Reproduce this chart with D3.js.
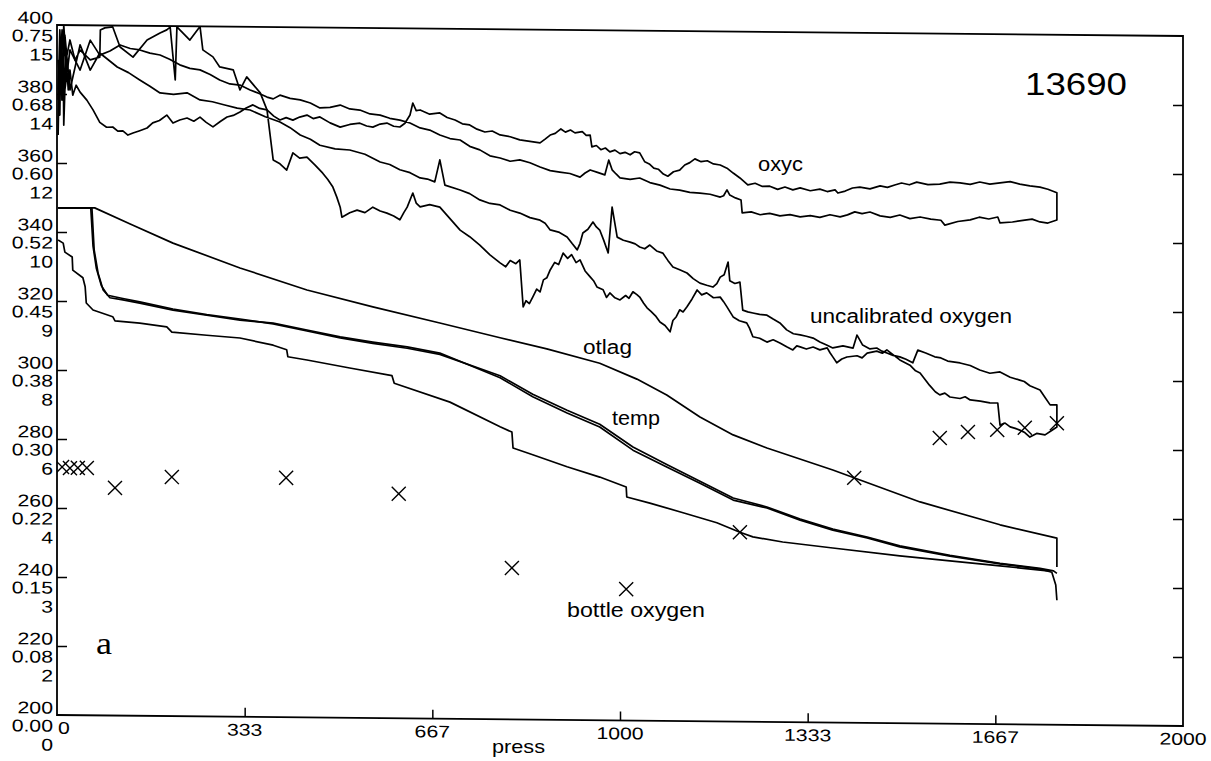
<!DOCTYPE html>
<html><head><meta charset="utf-8">
<script src="https://cdn.jsdelivr.net/npm/d3@7"></script>
<style>
body{margin:0;background:#fff}
svg{display:block}
text{font-family:"Liberation Sans",Arial,Helvetica,sans-serif;fill:#000}
</style>
</head><body>
<script>
// ---------- DATA ----------
const oxTicks = [200,220,240,260,280,300,320,340,360,380,400];
const otlagTickLabels = ["0.00","0.08","0.15","0.22","0.30","0.38","0.45","0.52","0.60","0.68","0.75"];
const tempTickLabels = ["0","2","3","4","6","8","9","10","12","14","15"];
const pressTicks = [0,333.33,666.67,1000,1333.33,1666.67,2000];
const pressTickLabels = ["0","333","667","1000","1333","1667","2000"];
const stationId = "13690";

// calibrated oxygen (oxyc): down cast then up cast  [press, value]
const oxyc = [
[2,368.1],[4,387.0],[5,373.9],[7,395.7],[9,378.3],[11,389.9],[12,371.0],[16,391.3],[20,381.2],[23,387.0],[28,379.7],[34,382.6],[41,380.6],[53,378.3],[64,375.5],
[76,371.9],[88,370.5],[99,370.6],[108,369.4],[117,369.5],[126,368.3],[135,368.9],[147,369.6],[160,370.4],[170,371.9],[182,372.6],[195,374.2],[206,371.9],[218,372.8],[231,373.4],[243,372.5],[254,373.7],[265,372.2],[277,370.9],[290,372.5],[302,373.8],[313,374.3],[325,375.3],[336,376.5],[348,377.4],[360,376.4],[373,376.0],[385,374.2],[396,373.1],[407,373.8],[419,373.1],[431,374.0],[444,374.6],[455,373.6],[467,374.1],[485,372.4],[503,371.2],[520,372.0],[538,372.4],[550,371.6],[561,371.3],[574,372.2],[586,372.5],[598,371.6],[609,371.4],[618,372.5],[627,374.9],[632,378.4],[638,376.2],[645,376.4],[662,375.2],[680,375.6],[693,374.3],[707,373.6],[720,372.5],[733,372.2],[746,371.0],[760,370.2],[773,370.5],[787,369.4],[805,368.9],[822,368.0],[840,367.6],
[858,367.2],[867,368.3],[876,369.5],[885,370.0],[895,371.3],[903,370.4],[912,371.0],[920,370.2],[933,370.6],[940,369.5],[947,369.6],[950,366.2],[958,366.6],[966,365.4],[974,365.9],[982,364.8],[991,365.3],[1000,364.3],[1009,364.7],[1018,364.0],[1026,364.9],[1035,364.6],[1044,362.0],[1052,361.4],[1060,360.2],[1068,359.9],[1077,358.5],[1085,357.9],[1095,359.2],[1106,359.7],[1115,361.2],[1124,361.9],[1133,363.0],[1144,362.2],[1155,362.5],[1166,361.6],[1178,361.3],[1190,360.4],[1201,359.0],[1213,357.6],[1220,356.6],[1227,355.6],[1240,356.1],[1253,355.2],[1266,355.3],[1280,354.4],[1293,355.1],[1307,354.3],[1320,354.9],[1338,354.1],[1355,354.6],[1368,353.9],[1382,354.4],[1387,353.5],[1400,354.1],[1413,355.0],[1426,355.3],[1444,354.8],[1462,355.7],[1475,355.3],[1488,356.0],[1500,356.6],[1514,356.1],[1527,356.9],[1547,356.2],[1568,356.4],[1586,357.0],[1604,356.8],[1622,356.4],[1639,357.1],[1657,356.5],[1675,356.9],[1693,357.3],[1710,356.6],[1728,356.1],[1746,355.8],[1760,355.2],[1776,354.2],
[1776,346.3],[1760,345.4],[1746,345.7],[1732,346.5],[1719,346.2],[1697,345.6],[1675,345.3],[1671,347.0],[1655,346.4],[1638,346.9],[1622,346.1],[1600,345.6],[1577,344.5],[1570,345.9],[1552,346.2],[1533,346.8],[1515,346.3],[1497,347.3],[1480,346.6],[1462,347.0],[1444,348.1],[1430,347.6],[1417,348.1],[1404,347.2],[1391,346.6],[1373,347.2],[1355,346.4],[1338,346.9],[1320,346.5],[1302,347.1],[1284,346.7],[1266,347.4],[1249,347.0],[1233,347.8],[1217,347.5],[1215,351.2],[1205,351.8],[1195,352.6],[1190,354.1],[1184,352.4],[1178,352.0],[1160,352.8],[1142,353.1],[1124,353.3],[1106,353.9],[1089,354.2],[1071,355.3],[1053,356.0],[1035,357.3],[1018,356.9],[1000,357.3],[993,358.4],[986,359.6],[980,362.4],[973,358.1],[960,358.8],[947,359.5],[938,358.6],[929,357.4],[911,358.4],[893,358.8],[876,359.2],[858,360.2],
[840,361.4],[822,362.2],[805,361.8],[787,362.7],[769,363.3],[751,365.0],[733,366.0],[716,367.8],[698,368.2],[680,369.2],[662,370.6],[645,371.2],[627,372.6],[609,373.4],[591,373.9],[574,374.8],[556,375.1],[538,376.2],[520,376.5],[503,377.6],[485,376.9],[467,376.7],[450,378.1],[432,379.0],[414,379.4],[396,380.3],[384,379.2],[373,379.7],[358,380.8],[343,381.7],[325,383.1],[307,383.4],[289,384.5],[272,386.1],[254,387.4],[236,387.8],[218,388.8],[200,390.4],[183,391.6],[165,392.1],[147,393.0],[130,393.4],[112,394.4],[94,392.6],[76,391.4],[59,395.7],[41,387.0],[23,392.8],[14,381.2],[9,398.6],[5,384.1],[2,389.9]
];

// uncalibrated oxygen: down cast then up cast
const uncalOxygen = [
[2,378.3],[5,398.6],[9,384.1],[12,400],[16,389.9],[23,395.7],[32,389.9],[41,392.8],[59,390.0],[76,390.8],[77,398.7],[85,399.3],[99,399.6],[112,393.8],[135,390.9],[160,395.9],[183,398.0],[195,398.9],[201,399.7],[210,384.4],[213,399.8],[236,396.0],[254,400],[259,393.2],[277,391.2],[289,388.3],[313,387.5],[325,381.7],[337,385.5],[361,380.9],[373,376.0],[384,361.5],[396,360.4],[408,358.6],[419,363.6],[431,362.1],[444,362.4],[458,360.2],[472,357.8],[481,356.0],[490,353.8],[497,350.9],[503,348.0],[506,345.1],[520,346.4],[533,347.2],[547,346.5],[561,348.1],[574,347.0],[586,346.4],[598,345.6],[609,344.5],[616,346.6],[622,348.2],[632,352.3],[638,349.4],[645,348.3],[662,349.0],[680,348.3],[698,345.0],[716,341.7],[733,339.8],[751,337.4],[769,334.6],
[787,332.3],[797,331.2],[805,333.0],[815,332.1],[822,333.2],[828,319.6],[833,321.4],[839,320.6],[845,322.5],[852,324.8],[858,324.0],[864,327.5],[870,328.1],[876,330.4],[884,332.6],[891,332.0],[899,335.3],[907,333.8],[914,334.9],[922,332.6],[929,333.4],[938,330.2],[947,328.5],[953,327.4],[959,325.6],[970,324.8],[976,322.6],[982,323.9],[991,322.5],[1000,321.9],[1010,323.2],[1016,322.4],[1023,324.3],[1030,323.5],[1035,322.8],[1042,321.0],[1048,319.7],[1055,318.7],[1063,317.4],[1071,315.6],[1080,314.6],[1089,312.8],[1094,316.1],[1100,317.2],[1106,319.2],[1112,318.6],[1119,320.1],[1128,322.4],[1137,325.0],[1145,323.6],[1154,324.2],[1166,322.8],[1178,323.0],[1184,321.7],[1190,320.2],[1196,318.6],[1201,317.3],[1212,316.2],[1225,315.6],[1230,314.1],[1236,311.6],[1248,311.2],[1261,310.1],[1272,310.8],[1284,309.9],[1296,308.8],[1307,307.9],[1314,309.1],[1320,308.8],[1331,308.2],[1343,308.8],[1355,308.0],[1368,308.6],[1373,307.2],[1378,306.0],[1385,304.3],[1394,305.4],[1403,306.0],[1421,306.4],[1430,305.8],[1439,307.2],[1456,307.8],[1466,307.2],[1474,308.2],[1486,306.7],[1497,305.3],[1515,303.8],[1525,302.2],[1533,301.6],[1550,298.0],[1560,296.2],[1568,295.3],[1577,295.8],[1586,294.7],[1604,294.3],[1613,294.8],[1622,293.9],[1640,293.6],[1657,293.1],[1671,293.1],[1675,286.7],[1684,287.3],[1693,286.2],[1702,285.8],[1710,285.3],[1719,284.6],[1728,283.3],[1740,284.4],[1755,284.0],[1766,285.2],[1776,286.3],
[1776,292.7],[1764,292.7],[1755,294.8],[1746,297.0],[1728,298.2],[1718,299.4],[1710,299.8],[1693,300.6],[1675,302.1],[1657,301.7],[1639,302.6],[1622,303.9],[1604,304.6],[1582,305.1],[1570,306.0],[1559,306.3],[1543,307.4],[1529,308.2],[1520,304.5],[1508,305.5],[1497,306.2],[1485,306.6],[1474,307.3],[1465,307.8],[1456,308.7],[1444,308.4],[1431,309.5],[1421,312.4],[1414,308.6],[1396,309.2],[1378,308.6],[1366,309.5],[1355,310.3],[1343,311.4],[1331,311.9],[1320,312.3],[1308,312.6],[1296,313.7],[1284,315.7],[1272,316.8],[1261,317.9],[1248,318.1],[1236,318.5],[1227,318.8],[1218,319.3],[1213,327.4],[1204,327.0],[1195,327.8],[1192,333.2],[1185,329.5],[1178,328.8],[1172,326.9],[1165,325.9],[1154,326.4],[1142,327.0],[1130,328.3],[1119,329.9],[1106,330.8],[1094,331.6],[1085,333.5],[1076,335.6],[1065,336.2],[1053,337.9],[1044,336.8],[1035,337.3],[1027,338.2],[1018,338.7],[1006,339.2],[995,340.1],[986,348.8],[979,335.5],[971,339.2],[964,342.1],[958,343.0],[952,344.4],[943,342.3],[934,341.2],[929,338.2],[924,336.3],[915,338.1],[906,340.0],[891,341.4],[876,342.0],[867,343.9],[858,344.8],
[840,345.5],[822,346.8],[805,347.6],[787,349.1],[769,349.5],[751,350.5],[733,352.3],[716,353.3],[689,354.7],[680,362.0],[671,355.6],[658,356.4],[645,356.7],[627,358.2],[609,359.0],[591,360.5],[574,361.2],[547,363.4],[520,364.6],[494,364.9],[467,365.9],[450,367.6],[432,368.8],[414,370.9],[396,372.5],[370,374.0],[343,375.9],[320,376.4],[298,377.3],[276,378.2],[254,378.7],[231,380.7],[207,380.2],[183,380.6],[165,382.5],[147,384.3],[127,386.4],[107,388.0],[76,392.0],[59,387.0],[41,394.3],[23,381.2],[14,397.1],[9,378.3],[5,394.2],[2,381.2]
];

// otlag (smooth)
const otlag = [
[2,347.0],[67,347.1],[130,342.5],[206,337.1],[325,330.1],[444,323.9],[561,319.2],[680,314.7],[787,310.6],[870,307.5],[964,303.5],[1030,299.0],[1083,294.5],[1142,288.2],[1201,283.1],[1261,279.4],[1378,273.2],[1533,264.2],[1675,257.8],[1776,254.1],[1776,245.7]
];

// temp (two nearly coincident traces)
const temp1 = [
[2,347.0],[62,347.1],[66,334.9],[73,328.2],[82,323.3],[94,321.1],[117,320.5],[147,319.6],[206,317.7],[266,316.3],[325,315.0],[384,314.2],[444,312.3],[503,310.4],[561,309.0],[622,307.7],[680,306.0],[787,299.0],[845,293.6],[906,289.0],[964,285.0],[1023,278.4],[1083,273.6],[1142,269.0],[1201,264.2],[1261,262.0],[1320,258.6],[1378,255.8],[1439,253.6],[1497,251.1],[1586,248.6],[1675,246.5],[1746,245.1],[1767,244.2],[1774,240.5],[1776,236.1]
];
const temp2 = [
[2,347.0],[60,347.1],[64,336.0],[70,329.5],[79,324.5],[90,321.8],[117,320.9],[147,320.0],[206,318.0],[266,316.5],[325,315.3],[384,314.0],[444,312.0],[503,310.1],[561,308.6],[622,307.3],[680,305.6],[787,299.6],[845,294.3],[906,289.8],[964,285.8],[1023,279.3],[1083,274.3],[1142,269.6],[1201,264.8],[1261,262.3],[1320,258.9],[1378,256.1],[1439,253.9],[1497,251.4],[1586,248.8],[1675,246.6],[1746,245.3],[1770,244.6],[1776,243.9]
];

// lower stepped trace
const lowerTrace = [
[2,337.7],[11,336.8],[14,334.2],[27,332.8],[28,329.0],[46,326.8],[50,324.2],[52,319.5],[64,317.5],[99,315.6],[103,314.4],[147,313.8],[195,312.8],[204,311.3],[266,310.5],[325,309.8],[384,307.8],[408,306.5],[410,304.5],[444,303.6],[520,301.4],[595,299.3],[599,297.1],[698,291.8],[787,284.8],[808,283.3],[810,278.7],[845,276.8],[906,273.4],[964,270.5],[1011,267.7],[1012,264.8],[1053,263.1],[1112,260.4],[1172,257.6],[1213,254.9],[1236,253.6],[1289,252.2],[1378,250.6],[1497,248.5],[1675,245.9],[1764,244.5]
];

// bottle oxygen samples
const bottlePress = [9,23,37,53,103,204,407,607,808,1011,1213,1416,1568,1618,1670,1719,1776];
const bottleOxygen = [271.9,271.6,271.7,271.7,266.0,269.3,269.4,265.1,243.9,238.1,254.9,271.0,282.8,284.6,285.3,286.0,287.4];

// ---------- CHART ----------
const W = 1211, H = 761;
const L = 57, T = 25, PW = 1126, PH = 690;
const skewDeg = Math.atan(11 / PW) * 180 / Math.PI;

const svg = d3.select("body").append("svg").attr("width", W).attr("height", H);
svg.append("rect").attr("width", W).attr("height", H).attr("fill", "#fff");

const xs = d3.scaleLinear().domain([0, 2000]).range([0, PW]);
const ys = d3.scaleLinear().domain([200, 400]).range([PH, 0]);

const g = svg.append("g").attr("transform", `translate(${L},${T}) skewY(${skewDeg})`);

g.append("clipPath").attr("id", "clip").append("rect").attr("x", 0).attr("y", 0).attr("width", PW).attr("height", PH);

// frame
g.append("rect").attr("x", 0).attr("y", 0).attr("width", PW).attr("height", PH)
  .attr("fill", "none").attr("stroke", "#000").attr("stroke-width", 1.8);

const inner = oxTicks.slice(1, -1);
const axL = g.append("g").call(d3.axisLeft(ys).tickValues(inner).tickSizeInner(-10).tickSizeOuter(0).tickFormat(""));
const axR = g.append("g").attr("transform", `translate(${PW},0)`).call(d3.axisRight(ys).tickValues(inner).tickSizeInner(-10).tickSizeOuter(0).tickFormat(""));
const axB = g.append("g").attr("transform", `translate(0,${PH})`).call(d3.axisBottom(xs).tickValues(pressTicks.slice(1, -1)).tickSizeInner(-9).tickSizeOuter(0).tickFormat(""));
[axL, axR, axB].forEach(a => {
  a.select(".domain").remove();
  a.selectAll("line").attr("stroke", "#000").attr("stroke-width", 1.5);
});

// y labels: three stacked rows
const rowOff = [-7, 11, 30];
oxTicks.forEach((v, i) => {
  [String(v), otlagTickLabels[i], tempTickLabels[i]].forEach((s, r) => {
    g.append("text")
      .attr("transform", `translate(-4,${ys(v) + rowOff[r]}) scale(1.25,1)`)
      .attr("text-anchor", "end").attr("dominant-baseline", "central")
      .attr("font-size", 17).text(s);
  });
});
// x labels
pressTicks.forEach((v, i) => {
  g.append("text")
    .attr("transform", `translate(${i === 0 ? xs(v) + 1 : xs(v)},${PH + 13}) scale(1.25,1)`)
    .attr("text-anchor", i === 0 ? "start" : "middle").attr("dominant-baseline", "central")
    .attr("font-size", 17).text(pressTickLabels[i]);
});

// lines
const line = d3.line().x(d => xs(d[0])).y(d => ys(d[1]));
const lg = g.append("g").attr("clip-path", "url(#clip)");
[oxyc, uncalOxygen, otlag, temp1, temp2, lowerTrace].forEach(s => {
  lg.append("path").datum(s).attr("d", line)
    .attr("fill", "none").attr("stroke", "#000").attr("stroke-width", 1.7)
    .attr("stroke-linejoin", "round");
});

// bottle X markers
const bottle = bottlePress.map((p, i) => [p, bottleOxygen[i]]);
const cross = d3.symbol().type(d3.symbolX).size(130);
lg.selectAll(".bx").data(bottle).join("path")
  .attr("transform", d => `translate(${xs(d[0])},${ys(d[1])})`)
  .attr("d", cross).attr("fill", "none").attr("stroke", "#000").attr("stroke-width", 1.4);

// annotations (page coordinates)
function label(txt, x, y, size, len, family) {
  const t = svg.append("text").attr("x", x).attr("y", y).attr("font-size", size)
    .attr("textLength", len).attr("lengthAdjust", "spacingAndGlyphs").text(txt);
  if (family) t.style("font-family", family);
  return t;
}
label(stationId, 1025, 95, 31, 102);
label("oxyc", 758, 171, 20, 45);
label("uncalibrated oxygen", 810, 323, 20, 202);
label("otlag", 583, 354, 20, 49);
label("temp", 612, 425, 20, 48);
label("bottle oxygen", 567, 617, 20, 138);
label("press", 492, 753, 19, 53);
label("a", 96, 654, 32, 16, '"Liberation Serif","Times New Roman",serif');
</script>
</body></html>
